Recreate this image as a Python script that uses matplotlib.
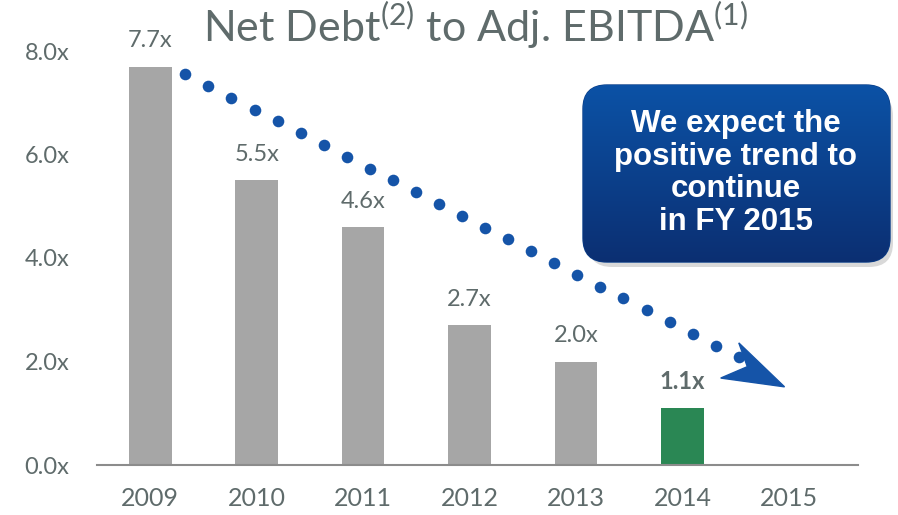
import numpy as np
import matplotlib
matplotlib.use("Agg")
import matplotlib.pyplot as plt
from matplotlib.patches import FancyBboxPatch, Polygon

plt.rcParams["font.family"] = ["Lato", "DejaVu Sans"]
plt.rcParams["mathtext.fontset"] = "custom"
plt.rcParams["mathtext.rm"] = "Lato"

years = ["2009", "2010", "2011", "2012", "2013", "2014", "2015"]
ratios = [7.7, 5.5, 4.6, 2.7, 2.0, 1.1, None]
labels = ["7.7x", "5.5x", "4.6x", "2.7x", "2.0x", "1.1x", ""]
y_ticks = [0, 2, 4, 6, 8]

GRAY = "#5f6b6b"
BAR = "#a6a6a6"
GREEN = "#2a8754"
BLUE = "#1554a8"

fig = plt.figure(figsize=(8.98, 5.15), dpi=100)
ax = fig.add_axes([97 / 898, 1 - 465 / 515, 761 / 898, 414 / 515])

x = np.arange(len(years))
for i, v in enumerate(ratios):
    if v is None:
        continue
    last = i == 5
    ax.bar(x[i], v, width=0.4, color=GREEN if last else BAR, zorder=2)
    ax.annotate(labels[i], (x[i], v), xytext=(0, 11), textcoords="offset points",
                ha="center", va="bottom", fontsize=17, color=GRAY,
                fontweight="bold" if last else "normal")

ax.set_xlim(-0.5, 6.65)
ax.set_ylim(0, 8)
ax.set_xticks(x)
ax.set_xticklabels(years, fontsize=18, color=GRAY)
ax.set_yticks(y_ticks)
ax.set_yticklabels([f"{t:.1f}x" for t in y_ticks], fontsize=17, color=GRAY)
ax.tick_params(axis="both", length=0)
ax.tick_params(axis="x", pad=16)
ax.tick_params(axis="y", pad=20)
for s in ["top", "right", "left"]:
    ax.spines[s].set_visible(False)
ax.spines["bottom"].set_color("#8c8c8c")
ax.spines["bottom"].set_linewidth(1.5)

# dotted trend arrow
dx = np.linspace(0.33, 5.53, 25)
dy = np.linspace(7.55, 2.08, 25)
ax.scatter(dx, dy, s=70, color=BLUE, zorder=4, clip_on=False, linewidths=0)
head = Polygon([(5.96, 1.51), (5.53, 2.36), (5.61, 1.90), (5.36, 1.68)],
               closed=True, color=BLUE, zorder=4, clip_on=False)
ax.add_patch(head)

fig.text(0.529, 0.951, r"Net Debt$^{(2)}$ to Adj. EBITDA$^{(1)}$", ha="center",
         va="center", fontsize=31, color=GRAY)

# callout box in pixel coordinates
ov = fig.add_axes([0, 0, 1, 1], zorder=5)
ov.set_xlim(0, 898)
ov.set_ylim(515, 0)
ov.axis("off")
shadow = FancyBboxPatch((588, 92), 305, 175, boxstyle="round,pad=0,rounding_size=24",
                        facecolor="#000000", alpha=0.15, edgecolor="none")
ov.add_patch(shadow)
box = FancyBboxPatch((583, 85), 307, 177, boxstyle="round,pad=0,rounding_size=24",
                     facecolor="none", edgecolor="#0a3f8a", linewidth=1)
ov.add_patch(box)
grad = np.linspace(0, 1, 256).reshape(-1, 1)
cmap = matplotlib.colors.LinearSegmentedColormap.from_list("g", ["#0b52a6", "#0c2f72"])
img = ov.imshow(grad, extent=(583, 890, 262, 85), cmap=cmap, aspect="auto", zorder=1)
img.set_clip_path(box)
ov.text(736, 173, "We expect the\npositive trend to\ncontinue\nin FY 2015", ha="center",
        va="center", fontsize=22.5, color="white", fontweight="bold", linespacing=1.12,
        family=["Liberation Sans"], zorder=3)

plt.savefig("out.png", dpi=100)
